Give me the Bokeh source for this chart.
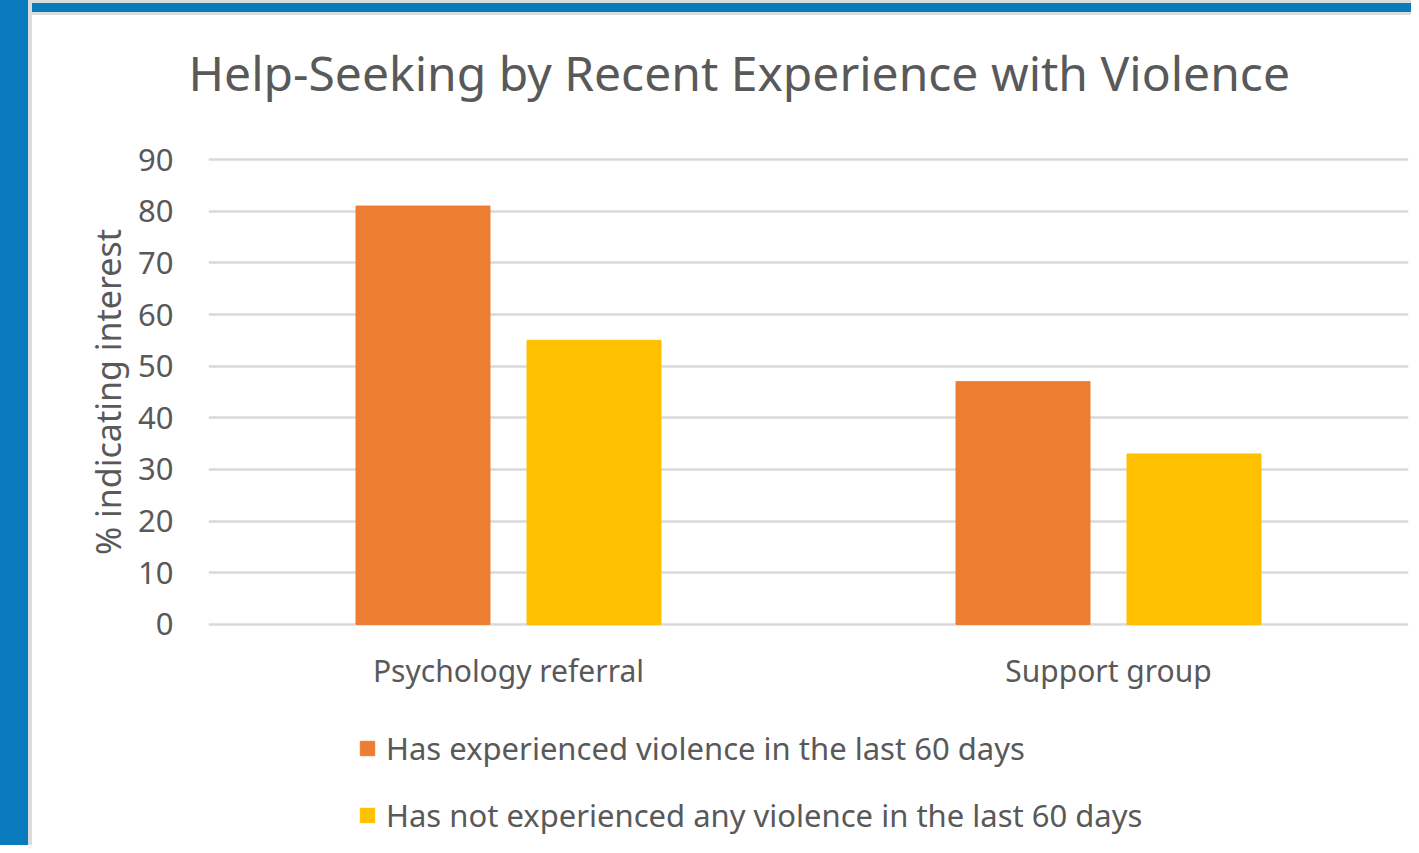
from bokeh.plotting import figure
from bokeh.layouts import row, column
from bokeh.models import ColumnDataSource, FactorRange, Legend, LegendItem, SingleIntervalTicker, Div, Range1d
from bokeh.transform import dodge
from bokeh.embed import file_html
from bokeh.resources import INLINE

categories = ["Psychology referral", "Support group"]
experienced = [81, 47]
not_experienced = [55, 33]
series_names = ["Has experienced violence in the last 60 days",
                "Has not experienced any violence in the last 60 days"]
title_text = "Help-Seeking by Recent Experience with Violence"
y_label = "% indicating interest"

FONT = "Noto Sans"
TXT = "#595959"
ORANGE = "#ED7D31"
YELLOW = "#FFC000"
BLUE = "#0A7BBD"
EDGE = "#DCDCDC"

src = ColumnDataSource(dict(cat=categories, a=experienced, b=not_experienced))


def blank(f):
    f.background_fill_color = "white"
    f.border_fill_color = "white"
    f.outline_line_color = None
    return f


# ---- title strip
tf = blank(figure(width=1379, height=95, output_backend="svg", toolbar_location=None,
                  x_axis_type=None, y_axis_type=None,
                  min_border_left=176, min_border_right=3, min_border_top=89, min_border_bottom=0))
tf.grid.visible = False
tf.title.text = title_text
tf.title.text_font = FONT
tf.title.text_font_size = "48px"
tf.title.text_font_style = "normal"
tf.title.text_color = TXT
tf.title.align = "left"
tf.title.offset = -20
tf.title.standoff = 0

# ---- main chart
p = blank(figure(x_range=FactorRange(*categories, range_padding=0), y_range=Range1d(-0.4, 90.4),
                 width=1379, height=600, output_backend="svg", toolbar_location=None,
                 min_border_left=176, min_border_right=3, min_border_top=47, min_border_bottom=84))

r1 = p.vbar(x=dodge("cat", -0.1425, range=p.x_range), top="a", width=0.2233, source=src,
            fill_color=ORANGE, line_color=ORANGE)
r2 = p.vbar(x=dodge("cat", 0.1425, range=p.x_range), top="b", width=0.2233, source=src,
            fill_color=YELLOW, line_color=YELLOW)

p.yaxis.ticker = SingleIntervalTicker(interval=10)
p.yaxis.axis_line_color = None
p.yaxis.major_tick_line_color = None
p.yaxis.minor_tick_line_color = None
p.yaxis.major_label_text_font = FONT
p.yaxis.major_label_text_font_size = "31px"
p.yaxis.major_label_text_color = TXT
p.yaxis.major_label_standoff = 29
p.yaxis.axis_label = y_label
p.yaxis.axis_label_text_font = FONT
p.yaxis.axis_label_text_font_size = "34px"
p.yaxis.axis_label_text_font_style = "normal"
p.yaxis.axis_label_text_color = TXT
p.yaxis.axis_label_standoff = 4

p.xaxis.axis_line_color = None
p.xaxis.major_tick_line_color = None
p.xaxis.minor_tick_line_color = None
p.xaxis.major_label_text_font = FONT
p.xaxis.major_label_text_font_size = "30px"
p.xaxis.major_label_text_color = TXT
p.xaxis.major_label_standoff = 17

p.xgrid.grid_line_color = None
p.ygrid.grid_line_color = "#D9D9D9"
p.ygrid.grid_line_width = 2.5

# ---- legend strip (series renderers hidden so that only the legend shows)
lf = blank(figure(x_range=FactorRange(*categories, range_padding=0), y_range=Range1d(-2, -1),
                  width=1379, height=135, output_backend="svg", toolbar_location=None,
                  x_axis_type=None, y_axis_type=None,
                  min_border_left=176, min_border_right=3, min_border_top=0, min_border_bottom=0))
lf.grid.visible = False
lr1 = lf.vbar(x=dodge("cat", -0.1425, range=lf.x_range), top="a", width=0.2233, source=src,
              fill_color=ORANGE, line_color=ORANGE, visible=False)
lr2 = lf.vbar(x=dodge("cat", 0.1425, range=lf.x_range), top="b", width=0.2233, source=src,
              fill_color=YELLOW, line_color=YELLOW, visible=False)

legend = Legend(items=[LegendItem(label=series_names[0], renderers=[lr1]),
                       LegendItem(label=series_names[1], renderers=[lr2])],
                location=(150, 9), orientation="vertical")
legend.label_text_font = FONT
legend.label_text_font_size = "31px"
legend.label_text_color = TXT
legend.glyph_width = 18
legend.glyph_height = 18
legend.label_standoff = 10
legend.spacing = 25
legend.background_fill_alpha = 0
legend.border_line_color = None
legend.inactive_fill_alpha = 0
legend.padding = 0
legend.margin = 0
lf.add_layout(legend, "center")

left_band = Div(text="", width=32, height=845, margin=0,
                styles={"background-color": BLUE, "border-right": "4px solid " + EDGE,
                        "box-sizing": "border-box"})
top_band = Div(text="", width=1379, height=15, margin=0,
               styles={"background-color": BLUE, "border-top": "3px solid " + EDGE,
                       "border-bottom": "3px solid " + EDGE, "box-sizing": "border-box"})

layout = row(left_band, column(top_band, tf, p, lf, spacing=0), spacing=0)

open("out.html", "w").write(file_html(layout, INLINE))
